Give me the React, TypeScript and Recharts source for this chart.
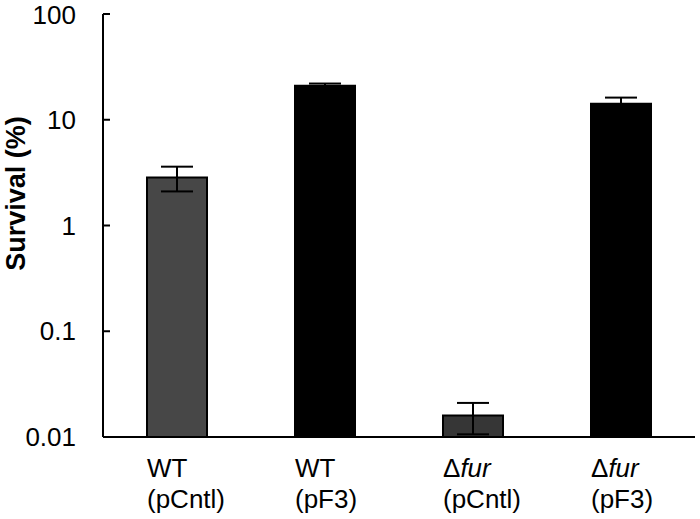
import React from 'react';
import { BarChart, Bar, XAxis, YAxis, Cell, ErrorBar } from 'recharts';

const strains = ['WT', 'WT', 'Δfur', 'Δfur'];
const plasmids = ['(pCntl)', '(pF3)', '(pCntl)', '(pF3)'];
const survival = [2.85, 21, 0.016, 14.2];
const errLow = [2.1, 19.5, 0.0106, 12.5];
const errHigh = [3.6, 22, 0.021, 16.2];
const barColors = ['#474747', '#000000', '#363636', '#000000'];
const yTicks = [0.01, 0.1, 1, 10, 100];
const edgeTicks = [0, 1, 2, 3, 4];

const data = survival.map((v, i) => ({
    name: `${strains[i]} ${plasmids[i]}`,
    idx: i,
    strain: strains[i],
    plasmid: plasmids[i],
    survival: v,
    err: [v - errLow[i], errHigh[i] - v],
}));

const FONT = 'Arial, "Liberation Sans", sans-serif';

// category label: strain on first line, plasmid below, left-aligned to bar
const CategoryTick = (props: any) => {
    const { x, y, index } = props;
    const d = data[index];
    const left = x - 30;
    return (
        <g>
            <text x={left} y={y + 40} fontSize={26} fontFamily={FONT} fill="#000">
                {d.strain === 'Δfur' ? (
                    <>
                        Δ<tspan fontStyle="italic">fur</tspan>
                    </>
                ) : (
                    d.strain
                )}
            </text>
            <text x={left} y={y + 71} fontSize={26} fontFamily={FONT} fill="#000">
                {d.plasmid}
            </text>
        </g>
    );
};

export default function App() {
    return (
        <div style={{ width: 700, height: 519 }}>
            <style>{`body{margin:0}`}</style>
            <BarChart
                width={700}
                height={519}
                data={data}
                margin={{ top: 14, right: 5, bottom: 0, left: 0 }}
            >
                <XAxis
                    xAxisId="edge"
                    type="number"
                    dataKey="idx"
                    domain={[0, 4]}
                    allowDataOverflow
                    ticks={edgeTicks}
                    tick={false}
                    tickSize={-8}
                    axisLine={false}
                    tickLine={{ stroke: '#000', strokeWidth: 2 }}
                    height={0}
                />
                <XAxis
                    dataKey="name"
                    interval={0}
                    tick={<CategoryTick />}
                    tickLine={false}
                    tickSize={0}
                    tickMargin={0}
                    axisLine={{ stroke: '#000', strokeWidth: 2 }}
                    height={82}
                />
                <YAxis
                    scale="log"
                    domain={[0.01, 100]}
                    ticks={yTicks}
                    allowDataOverflow
                    width={103}
                    tickSize={-7}
                    tickMargin={34}
                    tickFormatter={(v: number) => String(v)}
                    tick={{ fontSize: 26, fontFamily: FONT, fill: '#000' }}
                    tickLine={{ stroke: '#000', strokeWidth: 2 }}
                    axisLine={{ stroke: '#000', strokeWidth: 2 }}
                    label={{
                        value: 'Survival (%)',
                        angle: -90,
                        position: 'insideLeft',
                        dx: 10,
                        dy: -32,
                        style: { fontSize: 27, fontWeight: 'bold', fontFamily: FONT, fill: '#000', textAnchor: 'middle' },
                    }}
                />
                <Bar
                    dataKey="survival"
                    barSize={60}
                    stroke="#000"
                    strokeWidth={2}
                    isAnimationActive={false}
                >
                    {data.map((d, i) => (
                        <Cell key={d.name} fill={barColors[i]} />
                    ))}
                    <ErrorBar dataKey="err" width={16} stroke="#000" strokeWidth={2} isAnimationActive={false} />
                </Bar>
            </BarChart>
        </div>
    );
}
